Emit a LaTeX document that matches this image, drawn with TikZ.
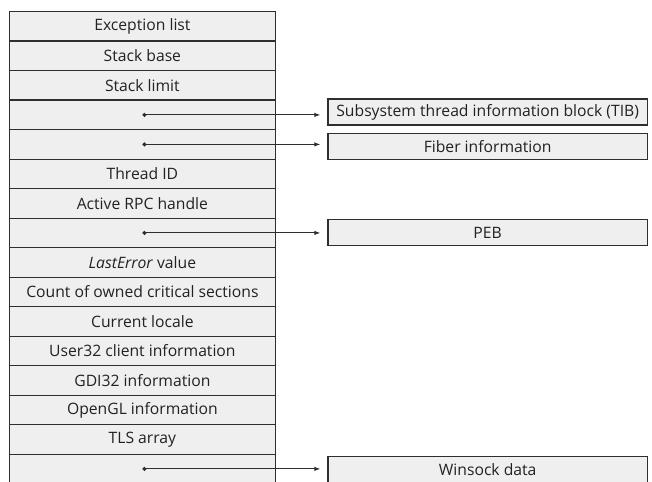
\documentclass[tikz,border=0pt]{standalone}
\usepackage{fontspec}
\setmainfont{Open Sans}
\usetikzlibrary{arrows.meta}
\definecolor{cellfill}{HTML}{EFEFEF}
\definecolor{edge}{HTML}{2E2E2E}
\definecolor{txt}{HTML}{222222}
\begin{document}
\begin{tikzpicture}[x=1pt,y=-1pt,
  cell/.style={draw=edge, line width=1.3pt, fill=cellfill, minimum width=266.5pt,
    minimum height=29.5pt, inner sep=0pt, anchor=north west, text=txt,
    font=\fontsize{15.7}{17}\selectfont},
  side/.style={draw=edge, line width=1.3pt, fill=cellfill, minimum width=319.4pt,
    minimum height=26pt, inner sep=0pt, anchor=west, text=txt,
    font=\fontsize{15.7}{17}\selectfont},
  ptr/.style={draw=edge, line width=1pt, {Circle[length=4pt]}-{Latex[length=6pt,width=4.5pt]},
    shorten >=7pt}]
\useasboundingbox (0,0) rectangle (652,481);
\clip (0,0) rectangle (652,481);
\node[cell] (r1)  at (8.5,11)    {Exception list};
\node[cell] (r2)  at (8.5,40.5)  {Stack base};
\node[cell] (r3)  at (8.5,70)    {Stack limit};
\node[cell] (r4)  at (8.5,99.5)  {};
\node[cell] (r5)  at (8.5,129)   {};
\node[cell] (r6)  at (8.5,158.5) {Thread ID};
\node[cell] (r7)  at (8.5,188)   {Active RPC handle};
\node[cell] (r8)  at (8.5,217.5) {};
\node[cell] (r9)  at (8.5,247)   {\textit{LastError} value};
\node[cell] (r10) at (8.5,276.5) {Count of owned critical sections};
\node[cell] (r11) at (8.5,306)   {Current locale};
\node[cell] (r12) at (8.5,335.5) {User32 client information};
\node[cell] (r13) at (8.5,365)   {GDI32 information};
\node[cell] (r14) at (8.5,394.5) {OpenGL information};
\node[cell] (r15) at (8.5,424)   {TLS array};
\node[cell] (r16) at (8.5,453.5) {};

\node[side] (tib)   at (327.3,112)   {Subsystem thread information block (TIB)};
\node[side] (fiber) at (327.3,146.3) {Fiber information};
\node[side] (peb)   at (327.3,232.5) {PEB};
\node[side] (wsock) at (327.3,469.7) {Winsock data};

\draw[ptr] (r4.center) -- (r4.center -| tib.west);
\draw[ptr] (r5.center) -- (r5.center -| fiber.west);
\draw[ptr] (r8.center) -- (r8.center -| peb.west);
\draw[ptr] (r16.center) -- (r16.center -| wsock.west);
\end{tikzpicture}
\end{document}
